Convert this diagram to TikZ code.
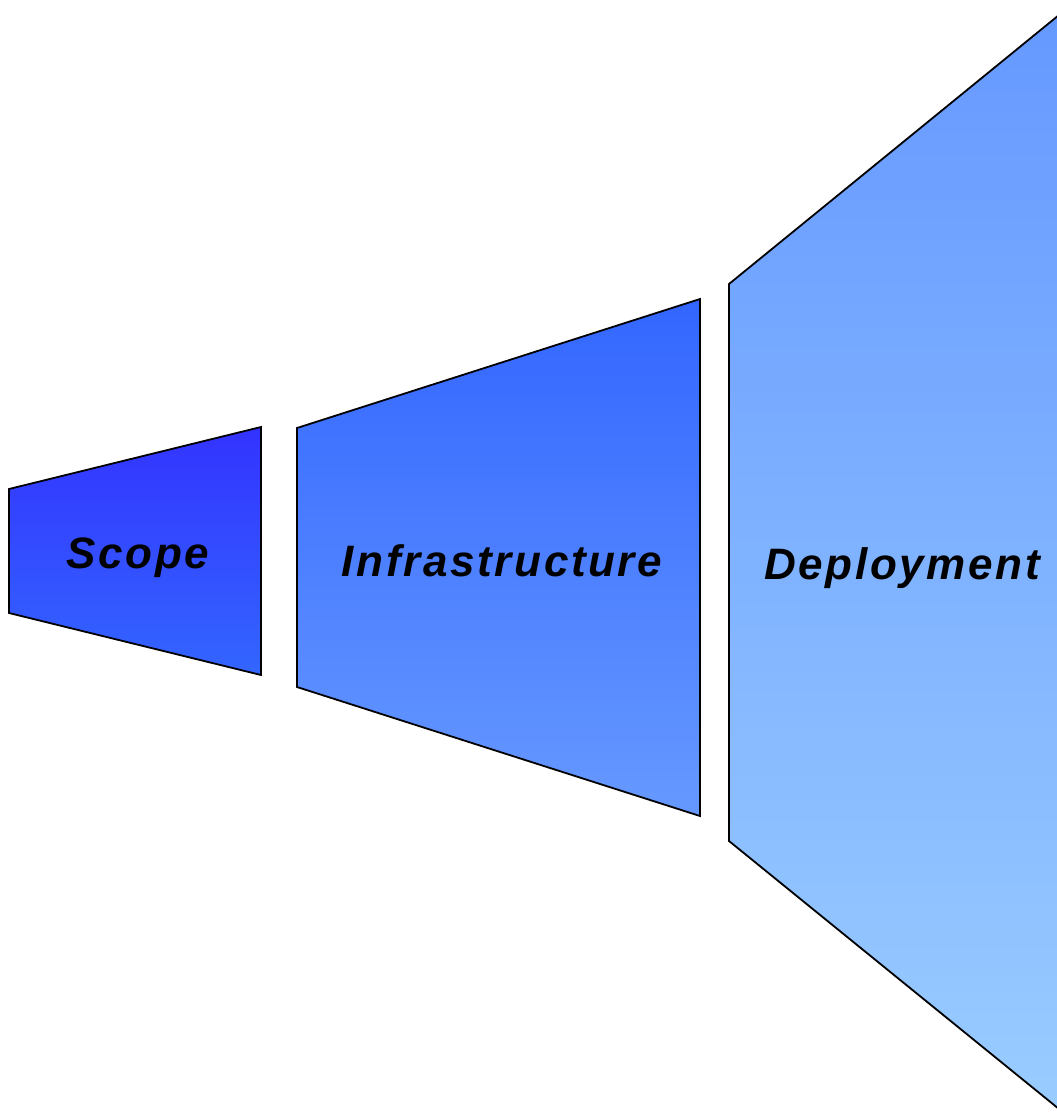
\documentclass[tikz,border=0pt]{standalone}
\usepackage{fontspec}
\setsansfont{Liberation Sans}
\usetikzlibrary{positioning}

\definecolor{scopetop}{HTML}{3333FF}
\definecolor{scopebot}{HTML}{3366FF}
\definecolor{infratop}{HTML}{3366FF}
\definecolor{infrabot}{HTML}{6699FF}
\definecolor{deploytop}{HTML}{6699FF}
\definecolor{deploybot}{HTML}{99CCFF}

\tikzset{
  stage/.style={draw=black, line width=1.8pt, line join=miter},
  stagelabel/.style={font=\sffamily\bfseries\itshape\fontsize{44}{44}\selectfont\addfontfeatures{LetterSpace=6},
    text=black, inner sep=0pt}
}

\begin{document}
\begin{tikzpicture}[x=1pt,y=-1pt]
  \useasboundingbox (0,0) rectangle (1057,1116);

  % Scope
  \path[stage, top color=scopetop, bottom color=scopebot]
    (9,489) -- (261,427) -- (261,675) -- (9,613) -- cycle;
  % Infrastructure
  \path[stage, top color=infratop, bottom color=infrabot]
    (297,428) -- (700,299) -- (700,816) -- (297,687) -- cycle;
  % Deployment
  \path[stage, top color=deploytop, bottom color=deploybot]
    (729,284) -- (1059,15) -- (1059,1109) -- (729,841) -- cycle;

  \node[stagelabel] (scope) at (138,558) {Scope};
  \node[stagelabel] (infra) at (502,561) {Infrastructure};
  \node[stagelabel] (deploy) at (902,568) {Deployment};
\end{tikzpicture}
\end{document}
